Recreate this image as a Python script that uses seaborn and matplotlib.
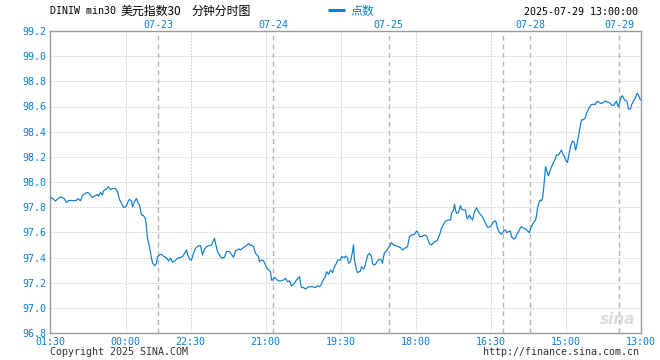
import matplotlib
matplotlib.use("Agg")
import matplotlib.pyplot as plt
import matplotlib.transforms as mtrans
from matplotlib.lines import Line2D
import pandas as pd
import seaborn as sns

# ---------------- data ----------------
bar_index = [
    0, 2, 5, 7, 10, 12, 14, 16, 18, 21, 23, 26, 27, 30, 32, 34, 37, 39, 41, 43,
    45, 47, 48, 50, 52, 53, 56, 58, 60, 62, 65, 67, 69, 71, 73, 76, 77, 79, 81, 82,
    84, 86, 87, 89, 91, 93, 95, 96, 97, 99, 101, 102, 104, 106, 107, 110, 111, 113, 116, 118,
    120, 122, 125, 127, 130, 132, 134, 136, 137, 139,
    141, 143, 145, 148, 150, 152, 154, 156, 158, 161, 163, 164, 165, 167, 169, 171, 174, 176, 179, 181,
    183, 185, 188, 190, 192, 194, 196, 198, 200, 201, 203, 205, 206, 208, 209, 211, 213, 215, 216, 218,
    220, 221, 222, 224, 226, 228, 230, 233, 235, 237, 239, 241, 244, 246, 249, 250, 251, 253, 255, 257,
    259, 262, 265, 267, 269, 271, 272, 275, 276, 278, 280,
    282, 284, 286, 287, 290, 291, 294, 295, 297, 298, 300, 302, 303, 304, 306, 307, 310, 311, 313, 314,
    316, 317, 319, 321, 322, 323, 325, 327, 329, 331, 332, 333, 334, 336, 338, 340, 341, 343, 346, 348,
    350, 352, 355, 357, 358, 359, 361, 364, 366, 367, 369, 371, 374, 376, 377, 379, 381, 384, 386, 387,
    389, 391, 393, 395, 398, 400, 401, 403, 404, 405, 406, 408, 410, 411, 413, 415, 416, 417, 419, 420,
    422, 424, 426, 427, 429, 431, 433, 435, 437, 440,
    441, 443, 445, 446, 447, 449, 450, 451, 453, 455, 456, 458, 460, 461, 463, 465, 466, 468, 470, 471,
    473, 475, 476, 478, 479, 480, 482, 485, 486, 487, 489, 490, 491, 492, 493, 494, 495, 496, 498, 499,
    501, 503, 505, 506, 508, 510, 511, 512, 514, 515, 517, 518, 520, 521, 522, 524, 525, 526, 527, 528,
    530, 531, 533, 535, 536, 538, 540, 541, 543, 545, 546, 548, 550, 551, 553, 555, 556, 558, 560, 561,
    563, 565, 566, 567, 568, 570, 571, 572, 574, 576, 577, 578, 580, 581, 583, 585, 586, 587, 589, 590,
]

points = [
    97.876, 97.870, 97.849, 97.865, 97.881, 97.876, 97.865, 97.836, 97.852, 97.854,
    97.852, 97.854, 97.868, 97.852, 97.892, 97.907, 97.918, 97.907, 97.881, 97.881,
    97.892, 97.902, 97.886, 97.918, 97.897, 97.929, 97.945, 97.963, 97.939, 97.950,
    97.947, 97.923, 97.860, 97.831, 97.796, 97.809, 97.836, 97.862, 97.849, 97.804,
    97.844, 97.870, 97.844, 97.817, 97.738, 97.733, 97.711, 97.637, 97.553, 97.486,
    97.394, 97.359, 97.335, 97.354, 97.407, 97.425, 97.425, 97.410, 97.399, 97.372,
    97.394, 97.362, 97.378, 97.394, 97.399, 97.407, 97.431, 97.460, 97.425, 97.388,
    97.380, 97.433, 97.473, 97.494, 97.494, 97.420, 97.468, 97.486, 97.492, 97.500,
    97.534, 97.553, 97.513, 97.447, 97.420, 97.394, 97.402, 97.447, 97.447, 97.425,
    97.402, 97.452, 97.468, 97.460, 97.473, 97.486, 97.494, 97.513, 97.494, 97.500,
    97.486, 97.433, 97.425, 97.407, 97.367, 97.380, 97.375, 97.341, 97.319, 97.301,
    97.288, 97.221, 97.221, 97.243, 97.227, 97.214, 97.214, 97.221, 97.235, 97.208,
    97.214, 97.174, 97.195, 97.221, 97.248, 97.195, 97.161, 97.161, 97.150, 97.161,
    97.168, 97.168, 97.161, 97.176, 97.168, 97.187, 97.214, 97.248, 97.288, 97.266,
    97.301,
    97.280, 97.327, 97.354, 97.378, 97.380, 97.407, 97.399, 97.412, 97.399, 97.354,
    97.367, 97.447, 97.500, 97.380, 97.301, 97.280, 97.293, 97.327, 97.309, 97.319,
    97.380, 97.415, 97.433, 97.407, 97.354, 97.341, 97.346, 97.372, 97.386, 97.378,
    97.354, 97.407, 97.439, 97.452, 97.478, 97.505, 97.518, 97.500, 97.492, 97.486,
    97.478, 97.460, 97.478, 97.486, 97.526, 97.566, 97.579, 97.584, 97.611, 97.605,
    97.566, 97.566, 97.579, 97.571, 97.553, 97.508, 97.500, 97.526, 97.531, 97.539,
    97.579, 97.632, 97.664, 97.690, 97.698, 97.698, 97.751, 97.778, 97.823, 97.778,
    97.751, 97.759, 97.812, 97.786, 97.778, 97.778, 97.725, 97.706, 97.738, 97.717,
    97.698, 97.764, 97.796, 97.778, 97.751, 97.733, 97.706, 97.672, 97.640, 97.645,
    97.658, 97.685, 97.690, 97.672, 97.632, 97.600, 97.592, 97.584, 97.611, 97.619,
    97.598, 97.605, 97.611, 97.566, 97.547, 97.553, 97.579, 97.605, 97.637, 97.645,
    97.632, 97.627, 97.619, 97.605, 97.598, 97.627, 97.664, 97.698, 97.733, 97.791,
    97.849, 97.857, 97.849, 97.870, 97.937, 98.024, 98.122, 98.096, 98.050, 98.077,
    98.122, 98.154, 98.188, 98.215, 98.215, 98.241, 98.254, 98.228, 98.201, 98.175,
    98.156, 98.201, 98.281, 98.307, 98.326, 98.307, 98.254, 98.281, 98.321, 98.368,
    98.458, 98.493, 98.495, 98.514, 98.546, 98.580, 98.607, 98.617, 98.617, 98.617,
    98.638, 98.638, 98.625, 98.625, 98.633, 98.644, 98.638, 98.633, 98.625, 98.612,
    98.607, 98.633, 98.644, 98.612, 98.599, 98.660, 98.678, 98.686, 98.652, 98.644,
    98.625, 98.580, 98.580, 98.612, 98.644, 98.670, 98.697, 98.705, 98.670, 98.652,
]

time_tick_pos = [0, 75, 140, 215, 290, 365, 440, 515, 590]
time_tick_labels = ["01:30", "00:00", "22:30", "21:00", "19:30", "18:00", "16:30", "15:00", "13:00"]
y_ticks = [96.8, 97.0, 97.2, 97.4, 97.6, 97.8, 98.0, 98.2, 98.4, 98.6, 98.8, 99.0, 99.2]
day_breaks = [107.8, 222.8, 338.2, 452.8, 479.8, 568.8]
date_label_pos = [107.8, 222.8, 338.2, 479.8, 568.8]
date_labels = ["07-23", "07-24", "07-25", "07-28", "07-29"]

assert len(bar_index) == len(points)

# ---------------- style ----------------
BLUE = "#0a7dd3"
LABEL_BLUE = "#0a80d8"
GRID = "#b4b4b4"
MONO = "DejaVu Sans Mono"
CJK = ["Noto Sans CJK SC", "DejaVu Sans"]

sns.set_theme(style="white")
plt.rcParams["font.family"] = [MONO, "Noto Sans CJK SC"]
plt.rcParams["lines.scale_dashes"] = False

W, H = 660, 360
fig = plt.figure(figsize=(W / 100, H / 100), dpi=100)
ax = fig.add_axes([50.5 / W, 27 / H, 590 / W, 302 / H])

df = pd.DataFrame({"t": bar_index, "v": points})
sns.lineplot(data=df, x="t", y="v", ax=ax, color=BLUE, linewidth=0.85,
             legend=False, zorder=5)

ax.set_xlim(0, 590)
ax.set_ylim(96.8, 99.2)
ax.set_xticks(time_tick_pos)
ax.set_xticklabels(time_tick_labels)
ax.set_yticks(y_ticks)
ax.set_yticklabels([f"{y:.1f}" for y in y_ticks])
ax.set_xlabel("")
ax.set_ylabel("")

ax.tick_params(axis="both", length=0, labelsize=7.2, labelcolor=LABEL_BLUE)
ax.tick_params(axis="y", pad=3.0)
ax.tick_params(axis="x", pad=3.0)

ax.grid(True, axis="both", color=GRID, linestyle=(0, (0.72, 1.44)), linewidth=0.72)
for b in day_breaks:
    ax.axvline(b, color=GRID, linewidth=1.0, linestyle=(0, (3.6, 2.6)), zorder=2)

for s in ax.spines.values():
    s.set_color("#9a9a9a")
    s.set_linewidth(1.0)
    s.set_visible(True)

trans = mtrans.blended_transform_factory(ax.transData, ax.transAxes)
for pos, lab in zip(date_label_pos, date_labels):
    ax.text(pos, 1 + 5.5 / 302, lab, transform=trans, ha="center", va="center",
            fontsize=7.2, color=LABEL_BLUE, family=MONO, clip_on=False)

# header texts
def fy(y):
    return 1 - y / H

fig.text(50.5 / W, fy(11.5), "DINIW min30", ha="left", va="center",
         fontsize=7.2, color="black", family=MONO)
fig.text(120 / W, fy(11.5), "美元指数30", ha="left", va="center",
         fontsize=8.6, color="black", family=CJK)
fig.text(192 / W, fy(11.5), "分钟分时图", ha="left", va="center",
         fontsize=8.6, color="black", family=CJK)

fig.add_artist(Line2D([328 / W, 345 / W], [fy(10), fy(10)], transform=fig.transFigure,
                      color=BLUE, linewidth=2.2, solid_capstyle="butt"))
fig.text(350 / W, fy(11.5), "点数", ha="left", va="center",
         fontsize=8.6, color=BLUE, family=CJK)
fig.text(638 / W, fy(12), "2025-07-29 13:00:00", ha="right", va="center",
         fontsize=7.2, color="black", family=MONO)

# footer texts
fig.text(50 / W, fy(352), "Copyright 2025 SINA.COM", ha="left", va="center",
         fontsize=7.2, color="#333333", family=MONO)
fig.text(639 / W, fy(352), "http://finance.sina.com.cn", ha="right", va="center",
         fontsize=7.2, color="#333333", family=MONO)

# watermark
fig.text(618 / W, fy(320), "sina", ha="center", va="center", fontsize=11,
         color="#dcdcdc", style="italic", weight="bold", family="DejaVu Sans")

fig.savefig("out.png", dpi=100)
